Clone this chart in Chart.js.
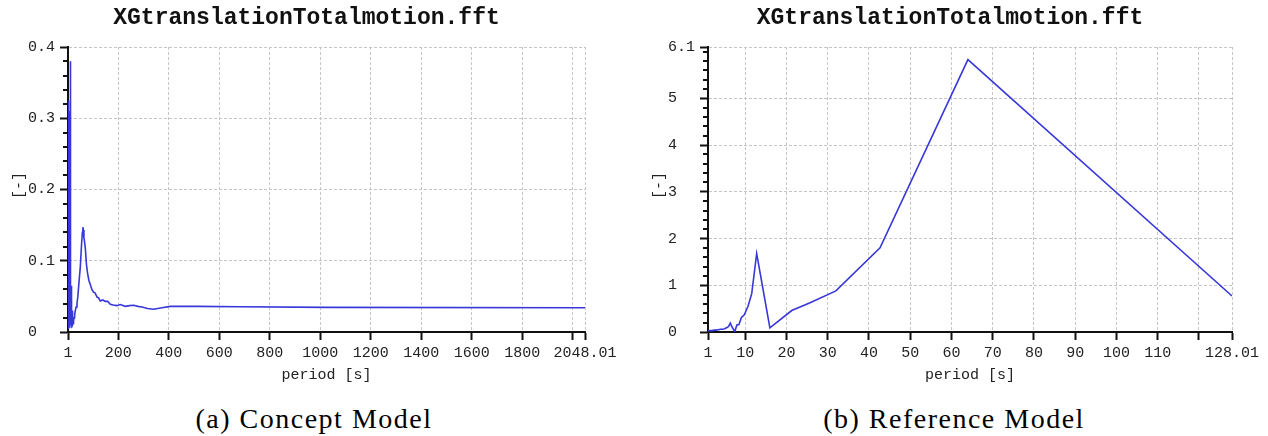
<!DOCTYPE html>
<html>
<head>
<meta charset="utf-8">
<script src="https://cdn.jsdelivr.net/npm/chart.js@4/dist/chart.umd.min.js"></script>
<style>
  html, body { margin: 0; padding: 0; background: #fff; }
  body { width: 1268px; height: 436px; position: relative; overflow: hidden; }
  .panel { position: absolute; top: 0; }
  canvas { display: block; }
  .caption {
    position: absolute; top: 405px;
    font-family: "Liberation Serif", "Times New Roman", serif;
    font-size: 28px; line-height: 28px; letter-spacing: 1.5px;
    text-align: center; color: #000; white-space: nowrap;
  }
</style>
</head>
<body>
<div class="panel" style="left:0"><canvas id="concept" width="628" height="392"></canvas></div>
<div class="panel" style="left:640px"><canvas id="reference" width="628" height="392"></canvas></div>
<div class="caption" style="left:0;width:628px">(a) Concept Model</div>
<div class="caption" style="left:640px;width:628px">(b) Reference Model</div>

<script>
// ---- Concept model spectrum (period [s] vs amplitude [-]) ----
const conceptPeriod = [
  1.0, 1.3, 1.6, 1.9, 2.2, 2.5, 2.8, 3.1, 3.4, 3.7,
  4.0, 4.3, 4.6, 4.9, 5.2, 5.5, 5.8, 6.1, 6.4, 6.7,
  7.0, 7.3, 7.6, 7.9, 8.2, 8.5, 8.8, 9.1, 9.4, 9.7,
  10.0, 10.4, 10.8, 11.2, 11.6, 12.0, 12.5, 13.0, 13.6, 14.2,
  14.9, 15.6, 16.4, 17.3, 18.3, 19.5, 21, 23, 25, 27.3,
  30, 33, 36.6, 40, 44.5, 49.7, 55, 58, 60, 62,
  64, 66, 69.5, 74, 78.7, 84, 89, 95, 102, 108,
  116, 122, 129, 139, 149, 158, 168.5, 180, 195, 208,
  228, 245, 261, 278, 294, 316, 340, 373, 406, 512,
  683, 1024, 2048.01
];
const conceptAmplitude = [
  0.32, 0.005, 0.31, 0.01, 0.325, 0.004, 0.30, 0.008, 0.32, 0.006,
  0.29, 0.01, 0.31, 0.005, 0.30, 0.012, 0.28, 0.006, 0.31, 0.01,
  0.27, 0.008, 0.30, 0.015, 0.26, 0.01, 0.29, 0.02, 0.25, 0.012,
  0.30, 0.38, 0.02, 0.33, 0.015, 0.20, 0.01, 0.065, 0.008, 0.064,
  0.01, 0.05, 0.006, 0.03, 0.012, 0.01, 0.012, 0.015, 0.02, 0.024,
  0.03, 0.035, 0.04, 0.05, 0.07, 0.091, 0.125, 0.14, 0.147, 0.143,
  0.132, 0.128, 0.118, 0.095, 0.082, 0.072, 0.067, 0.06, 0.056, 0.055,
  0.049, 0.048, 0.0435, 0.045, 0.043, 0.043, 0.039, 0.038, 0.037, 0.0385,
  0.036, 0.037, 0.0375, 0.036, 0.035, 0.033, 0.032, 0.034, 0.036, 0.036,
  0.0355, 0.0345, 0.034
];
const conceptXTicks  = [1, 200, 400, 600, 800, 1000, 1200, 1400, 1600, 1800, 2000, 2048.01];
const conceptXLabels = ['1', '200', '400', '600', '800', '1000', '1200', '1400', '1600', '1800', '', '2048.01'];
const conceptYTicks  = [0, 0.1, 0.2, 0.3, 0.4];
const conceptYLabels = ['0', '0.1', '0.2', '0.3', '0.4'];

// ---- Reference model spectrum ----
const referencePeriod = [
  1, 1.5, 2, 2.5, 3, 3.5, 4, 4.5, 5, 5.5,
  6, 6.4, 7, 7.5, 8, 8.5, 9.1, 9.8, 10.7, 11.6,
  12.8, 16, 21.3, 25.6, 32, 42.7, 64, 128.01
];
const referenceAmplitude = [
  0.02, 0.03, 0.03, 0.04, 0.04, 0.05, 0.06, 0.06, 0.07, 0.09,
  0.12, 0.19, 0.08, 0.01, 0.15, 0.16, 0.31, 0.37, 0.55, 0.82,
  1.68, 0.09, 0.46, 0.62, 0.88, 1.8, 5.83, 0.77
];
const referenceXTicks  = [1, 10, 20, 30, 40, 50, 60, 70, 80, 90, 100, 110, 120, 128.01];
const referenceXLabels = ['1', '10', '20', '30', '40', '50', '60', '70', '80', '90', '100', '110', '', '128.01'];
const referenceYTicks  = [0, 1, 2, 3, 4, 5, 6.1];
const referenceYLabels = ['0', '1', '2', '3', '4', '5', '6.1'];

const titleText  = 'XGtranslationTotalmotion.fft';
const xTitleText = 'period [s]';
const yTitleText = '[-]';

const MONO = '"Liberation Mono", "DejaVu Sans Mono", monospace';
const TEXT_COLOR = '#222';
const GRID_COLOR = '#c6c6c6';
const LINE_COLOR = 'rgb(55,55,218)';

// short intermediate tick marks on the value axis
const minorTickPlugin = {
  id: 'minorTicks',
  afterDraw(chart, args, opts) {
    const y = chart.scales.y;
    const x0 = chart.chartArea.left;
    const ctx = chart.ctx;
    const n = Math.round(y.max / opts.step);
    ctx.save();
    ctx.strokeStyle = '#111';
    ctx.lineWidth = 2;
    ctx.beginPath();
    for (let k = 1; k <= n; k++) {
      const v = k * opts.step;
      if (opts.majors.some(m => Math.abs(m - v) < 1e-6)) continue;
      const py = Math.round(y.getPixelForValue(v));
      ctx.moveTo(x0 - 5, py);
      ctx.lineTo(x0, py);
    }
    ctx.stroke();
    ctx.restore();
  }
};

// rotated unit label left of the value axis
const yTitlePlugin = {
  id: 'yTitle',
  afterDraw(chart, args, opts) {
    const ctx = chart.ctx;
    const cy = (chart.chartArea.top + chart.chartArea.bottom) / 2 - 4;
    ctx.save();
    ctx.translate(19, cy);
    ctx.rotate(-Math.PI / 2);
    ctx.font = '15px ' + MONO;
    ctx.fillStyle = TEXT_COLOR;
    ctx.textAlign = 'center';
    ctx.textBaseline = 'middle';
    ctx.fillText(opts.text, 0, 0);
    ctx.restore();
  }
};

function buildChart(id, periods, amps, xTicks, xLabels, yTicks, yLabels, minorStep, padRight) {
  const points = periods.map((p, i) => ({ x: p, y: amps[i] }));
  return new Chart(document.getElementById(id), {
    type: 'line',
    data: {
      datasets: [{
        data: points,
        borderColor: LINE_COLOR,
        borderWidth: 1.6,
        pointRadius: 0,
        tension: 0,
        fill: false
      }]
    },
    options: {
      responsive: false,
      animation: false,
      events: [],
      layout: { padding: { left: 28, right: padRight, top: 4, bottom: 0 } },
      plugins: {
        legend: { display: false },
        tooltip: { enabled: false },
        title: {
          display: true,
          text: titleText,
          color: '#111',
          font: { family: MONO, size: 23, weight: 'bold' },
          padding: { top: 0, bottom: 15.4 }
        },
        minorTicks: { step: minorStep, majors: yTicks },
        yTitle: { text: yTitleText }
      },
      scales: {
        x: {
          type: 'linear',
          min: xTicks[0],
          max: xTicks[xTicks.length - 1],
          afterBuildTicks: s => { s.ticks = xTicks.map(v => ({ value: v })); },
          afterFit: s => { s.height = 60; },
          ticks: {
            autoSkip: false, maxRotation: 0, minRotation: 0,
            padding: 4,
            color: TEXT_COLOR,
            font: { family: MONO, size: 15 },
            callback: (v, i) => xLabels[i]
          },
          grid: {
            color: GRID_COLOR, lineWidth: 1,
            tickLength: 8, tickColor: '#111', tickWidth: 2
          },
          border: { display: true, color: '#111', width: 2, dash: [3, 2] },
          title: {
            display: true, text: xTitleText, color: TEXT_COLOR,
            font: { family: MONO, size: 15 },
            padding: { top: 0, bottom: 8 }
          }
        },
        y: {
          type: 'linear',
          min: yTicks[0],
          max: yTicks[yTicks.length - 1],
          afterBuildTicks: s => { s.ticks = yTicks.map(v => ({ value: v })); },
          afterFit: s => { s.width = 40; },
          ticks: {
            crossAlign: 'far',
            color: TEXT_COLOR,
            font: { family: MONO, size: 15 },
            callback: (v, i) => yLabels[i]
          },
          grid: {
            color: GRID_COLOR, lineWidth: 1,
            tickLength: 8, tickColor: '#111', tickWidth: 2
          },
          border: { display: true, color: '#111', width: 2, dash: [3, 2] }
        }
      }
    },
    plugins: [minorTickPlugin, yTitlePlugin]
  });
}

buildChart('concept', conceptPeriod, conceptAmplitude,
  conceptXTicks, conceptXLabels, conceptYTicks, conceptYLabels, 0.02, 43);
buildChart('reference', referencePeriod, referenceAmplitude,
  referenceXTicks, referenceXLabels, referenceYTicks, referenceYLabels, 0.2, 36);
</script>
</body>
</html>
